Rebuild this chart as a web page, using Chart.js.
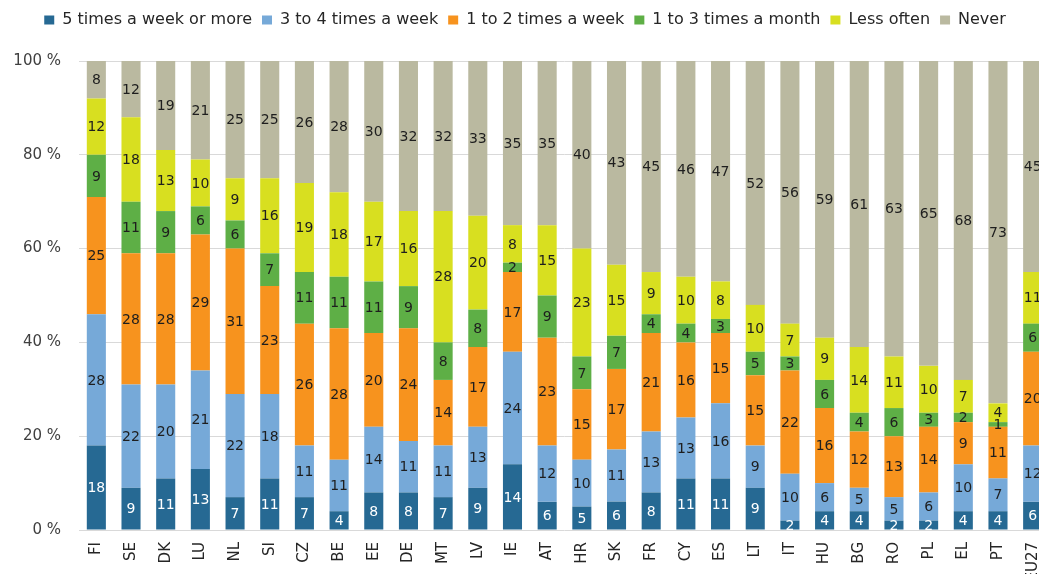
<!DOCTYPE html>
<html>
<head>
<meta charset="utf-8">
<script src="https://cdn.jsdelivr.net/npm/chart.js@4.4.1/dist/chart.umd.min.js"></script>
<style>
  html, body { margin: 0; padding: 0; background: #fff; overflow: hidden; }
  #wrap { width: 1052px; height: 574px; }
  canvas { display: block; }
</style>
</head>
<body>
<div id="wrap"><canvas id="freqChart" width="1052" height="574"></canvas></div>
<script>
// countries, sorted as in the source
const countries = ['FI', 'SE', 'DK', 'LU', 'NL', 'SI', 'CZ', 'BE', 'EE', 'DE', 'MT', 'LV', 'IE', 'AT',
  'HR', 'SK', 'FR', 'CY', 'ES', 'LT', 'IT', 'HU', 'BG', 'RO', 'PL', 'EL', 'PT', 'EU27'];

const fiveOrMore   = [18, 9, 11, 13, 7, 11, 7, 4, 8, 8, 7, 9, 14, 6, 5, 6, 8, 11, 11, 9, 2, 4, 4, 2, 2, 4, 4, 6];
const threeToFour  = [28, 22, 20, 21, 22, 18, 11, 11, 14, 11, 11, 13, 24, 12, 10, 11, 13, 13, 16, 9, 10, 6, 5, 5, 6, 10, 7, 12];
const oneToTwo     = [25, 28, 28, 29, 31, 23, 26, 28, 20, 24, 14, 17, 17, 23, 15, 17, 21, 16, 15, 15, 22, 16, 12, 13, 14, 9, 11, 20];
const perMonth     = [9, 11, 9, 6, 6, 7, 11, 11, 11, 9, 8, 8, 2, 9, 7, 7, 4, 4, 3, 5, 3, 6, 4, 6, 3, 2, 1, 6];
const lessOften    = [12, 18, 13, 10, 9, 16, 19, 18, 17, 16, 28, 20, 8, 15, 23, 15, 9, 10, 8, 10, 7, 9, 14, 11, 10, 7, 4, 11];
const never        = [8, 12, 19, 21, 25, 25, 26, 28, 30, 32, 32, 33, 35, 35, 40, 43, 45, 46, 47, 52, 56, 59, 61, 63, 65, 68, 73, 45];

const yTicks = [0, 20, 40, 60, 80, 100];

const FONT = "'DejaVu Sans', Verdana, sans-serif";

const series = [
  { label: '5 times a week or more', values: fiveOrMore, color: '#266993' },
  { label: '3 to 4 times a week', values: threeToFour, color: '#76a9d8' },
  { label: '1 to 2 times a week', values: oneToTwo, color: '#f7931e' },
  { label: '1 to 3 times a month', values: perMonth, color: '#5eaf46' },
  { label: 'Less often', values: lessOften, color: '#d8df20' },
  { label: 'Never', values: never, color: '#bab9a0' }
];

// 100% stacked: each column is scaled to its own total (rounded answers don't always add to 100)
const totals = countries.map((c, j) => series.reduce((s, d) => s + d.values[j], 0));

// draws the answered value in the middle of each segment
const segmentLabels = {
  id: 'segmentLabels',
  afterDatasetsDraw(chart) {
    const ctx = chart.ctx;
    ctx.save();
    ctx.font = '14px ' + FONT;
    ctx.textAlign = 'center';
    ctx.textBaseline = 'middle';
    chart.data.datasets.forEach((ds, i) => {
      const meta = chart.getDatasetMeta(i);
      meta.data.forEach((bar, j) => {
        const v = ds.raw[j];
        if (!v) return;
        ctx.fillStyle = i === 0 ? '#ffffff' : '#1e1e1e';
        ctx.fillText(v, bar.x, (bar.y + bar.base) / 2 + 1);
      });
    });
    ctx.restore();
  }
};

// extra room under the legend
const legendGap = {
  id: 'legendGap',
  beforeInit(chart) {
    const fit = chart.legend.fit;
    chart.legend.fit = function () {
      fit.bind(chart.legend)();
      this.height += 23;
    };
  }
};

const ctx = document.getElementById('freqChart').getContext('2d');
new Chart(ctx, {
  type: 'bar',
  data: {
    labels: countries,
    datasets: series.map(s => ({
      label: s.label,
      raw: s.values,
      data: s.values.map((v, j) => v / totals[j] * 100),
      backgroundColor: s.color
    }))
  },
  options: {
    responsive: false,
    animation: false,
    layout: { padding: { left: 0, right: 2, top: 2, bottom: 0 } },
    datasets: { bar: { barPercentage: 0.55, categoryPercentage: 1.0 } },
    plugins: {
      legend: {
        position: 'top',
        labels: {
          boxWidth: 10,
          boxHeight: 9,
          padding: 10,
          color: '#262626',
          font: { family: FONT, size: 16 }
        }
      },
      tooltip: { enabled: false }
    },
    scales: {
      x: {
        stacked: true,
        grid: { display: false, drawTicks: false },
        border: { display: false },
        ticks: {
          minRotation: 90,
          maxRotation: 90,
          padding: 12,
          color: '#262626',
          font: { family: FONT, size: 15 },
          autoSkip: false
        },
        afterFit(scale) {
          scale.height = 44;
          scale.paddingLeft = 0;
          scale.paddingRight = 0;
        }
      },
      y: {
        stacked: true,
        min: 0,
        max: 100,
        afterBuildTicks(scale) { scale.ticks = yTicks.map(v => ({ value: v })); },
        grid: { color: '#d9d9d9', lineWidth: 1, drawTicks: false },
        border: { display: false },
        ticks: {
          padding: 18,
          color: '#404040',
          font: { family: FONT, size: 15 },
          callback: v => v + ' %'
        },
        afterFit(scale) { scale.width = 79; }
      }
    }
  },
  plugins: [segmentLabels, legendGap]
});
</script>
</body>
</html>
